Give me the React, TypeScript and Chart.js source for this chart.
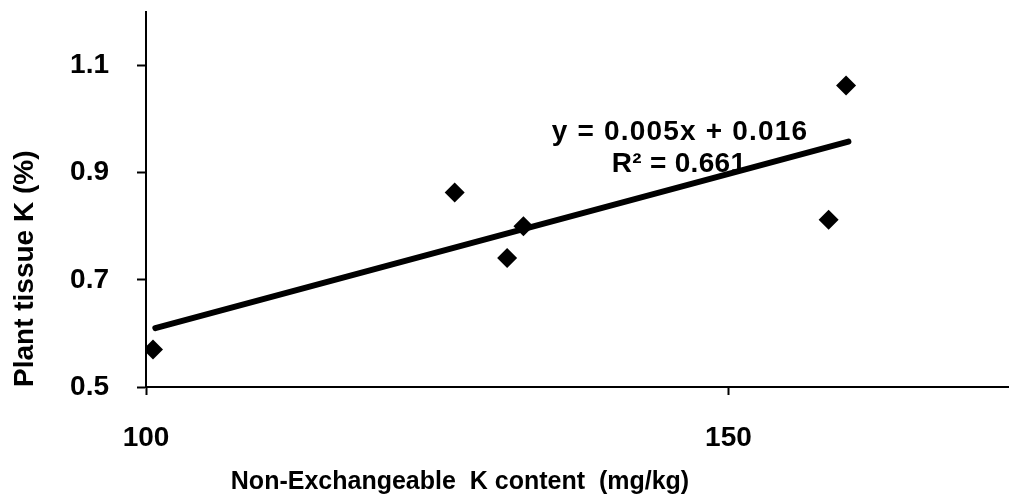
import React, { useEffect, useRef } from "react";
import { Chart, registerables } from "chart.js";

Chart.register(...registerables);

// Observed points (Non-exchangeable K, mg/kg ; plant tissue K, %)
const kContent = [100.6, 126.5, 131.0, 132.4, 158.6, 160.1];
const tissueK = [0.57, 0.863, 0.741, 0.8, 0.812, 1.063];

// Trendline end points
const trendX = [100.8, 160.3];
const trendY = [0.61, 0.958];

const xTickValues = [100, 150];
const yTickValues = [0.5, 0.7, 0.9, 1.1];

const equationText = "y = 0.005x + 0.016";
const r2Text = "R\u00B2 = 0.661";
const xTitle = "Non-Exchangeable  K content  (mg/kg)";
const yTitle = "Plant tissue K (%)";

const FONT = "'Liberation Sans', Arial, Helvetica, sans-serif";

export default function App() {
  const ref = useRef<HTMLCanvasElement | null>(null);

  useEffect(() => {
    if (!ref.current) return;
    const textPlugin = {
      id: "textPlugin",
      afterDatasetsDraw(chart: any) {
        const ctx = chart.ctx;
        ctx.save();
        ctx.fillStyle = "#000";
        ctx.textAlign = "center";
        ctx.textBaseline = "middle";
        ctx.font = `bold 28px ${FONT}`;
        (ctx as any).letterSpacing = "1.2px";
        ctx.fillText(equationText, 680, 132);
        (ctx as any).letterSpacing = "0.3px";
        ctx.fillText(r2Text, 679, 164);
        (ctx as any).letterSpacing = "0px";
        ctx.font = `bold 25px ${FONT}`;
        ctx.fillText(xTitle, 460, 482);
        ctx.restore();
      },
    };

    const chart = new Chart(ref.current, {
      type: "scatter",
      data: {
        datasets: [
          {
            label: "data",
            data: kContent.map((x, i) => ({ x, y: tissueK[i] })),
            pointStyle: "rectRot",
            pointRadius: 10,
            pointBackgroundColor: "#000",
            pointBorderWidth: 0,
            showLine: false,
          },
          {
            label: "trend",
            data: trendX.map((x, i) => ({ x, y: trendY[i] })),
            showLine: true,
            pointRadius: 0,
            borderColor: "#000",
            borderWidth: 6,
            borderCapStyle: "round",
          },
        ],
      },
      options: {
        responsive: false,
        animation: false,
        events: [],
        layout: { autoPadding: false, padding: { top: 12, right: 2, left: 0, bottom: 0 } },
        plugins: {
          legend: { display: false },
          tooltip: { enabled: false },
        },
        scales: {
          x: {
            type: "linear",
            min: 100,
            max: 174,
            afterBuildTicks: (scale: any) => {
              scale.ticks = xTickValues.map((v) => ({ value: v }));
            },
            afterFit: (scale: any) => {
              scale.height = 115;
              scale.paddingLeft = 0;
              scale.paddingRight = 0;
              scale.paddingTop = 0;
              scale.paddingBottom = 0;
            },
            border: { display: true, color: "#000", width: 2 },
            grid: {
              drawOnChartArea: false,
              drawTicks: true,
              tickLength: 8,
              tickWidth: 2,
              color: "#000",
            },
            ticks: {
              color: "#000",
              font: { family: FONT, size: 28, weight: "bold" },
              padding: 26,
              maxRotation: 0,
              autoSkip: false,
            },
          },
          y: {
            type: "linear",
            min: 0.5,
            max: 1.2,
            afterBuildTicks: (scale: any) => {
              scale.ticks = yTickValues.map((v) => ({ value: v }));
            },
            afterFit: (scale: any) => {
              scale.width = 146;
              scale.paddingLeft = 0;
              scale.paddingRight = 0;
              scale.paddingTop = 0;
              scale.paddingBottom = 0;
            },
            border: { display: true, color: "#000", width: 2 },
            grid: {
              drawOnChartArea: false,
              drawTicks: true,
              tickLength: 9,
              tickWidth: 2,
              color: "#000",
            },
            ticks: {
              color: "#000",
              font: { family: FONT, size: 28, weight: "bold" },
              padding: 28,
              autoSkip: false,
              callback: (v: any) => Number(v).toFixed(1),
            },
            title: {
              display: true,
              text: yTitle,
              align: "start",
              color: "#000",
              font: { family: FONT, size: 28, weight: "bold", lineHeight: 1.2 },
              padding: { top: 8, bottom: 0 },
            },
          },
        },
      },
      plugins: [textPlugin],
    } as any);
    return () => chart.destroy();
  }, []);

  return (
    <div style={{ position: "fixed", left: 0, top: 0, width: 1010, height: 502, background: "#fff" }}>
      <canvas ref={ref} width={1010} height={502} style={{ display: "block" }} />
    </div>
  );
}
